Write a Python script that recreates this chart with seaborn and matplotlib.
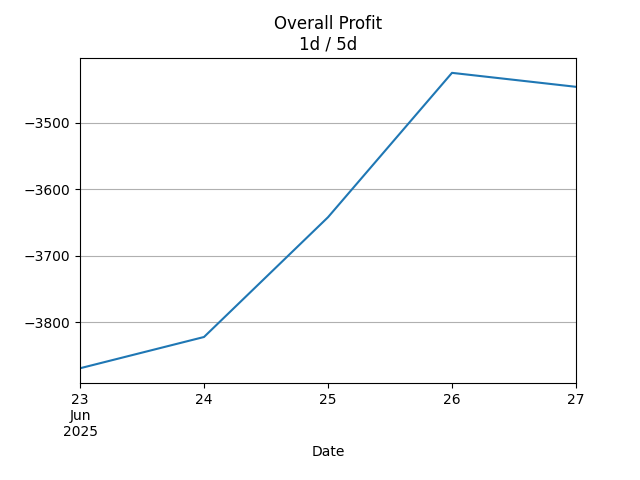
import matplotlib
matplotlib.use("Agg")
import matplotlib.pyplot as plt
import seaborn as sns
import pandas as pd

dates = ["2025-06-23", "2025-06-24", "2025-06-25", "2025-06-26", "2025-06-27"]
profit = [-3869, -3822, -3642, -3425, -3446]
tick_labels = ["23\nJun\n2025", "24", "25", "26", "27"]

df = pd.DataFrame({"Date": pd.to_datetime(dates), "profit": profit})
fig, ax = plt.subplots(figsize=(6.4, 4.8), dpi=100)
fig.subplots_adjust(left=0.125, right=0.9, top=0.879, bottom=0.202)
sns.lineplot(data=df, x="Date", y="profit", ax=ax, color="#1f77b4")
ax.set_xlim(df["Date"].iloc[0], df["Date"].iloc[-1])
ax.set_xticks(df["Date"])
ax.set_xticklabels(tick_labels)
ax.set_ylabel("")
ax.set_xlabel("Date")
ax.grid(axis="y")
ax.set_title("Overall Profit\n1d / 5d")
fig.savefig("out.png")
